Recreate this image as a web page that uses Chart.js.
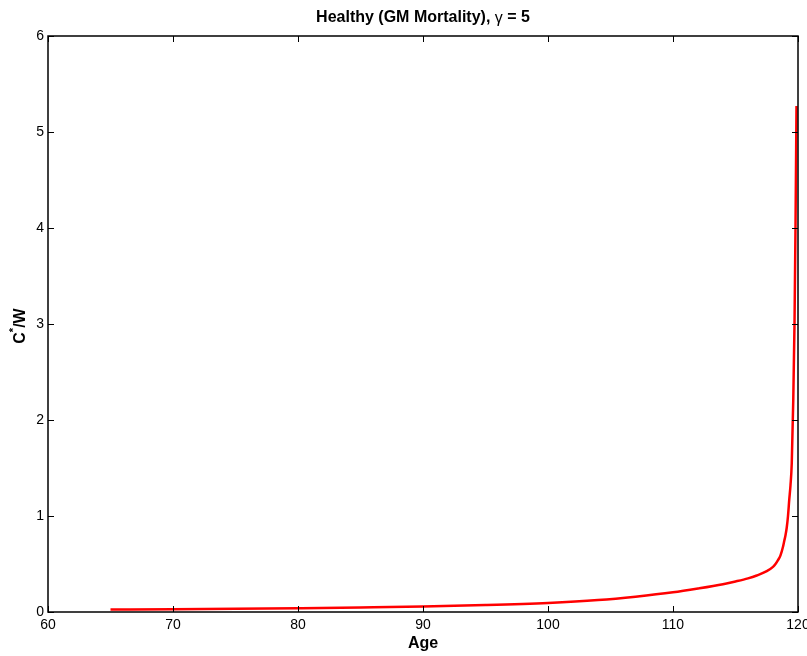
<!DOCTYPE html>
<html>
<head>
<meta charset="utf-8">
<script src="https://cdn.jsdelivr.net/npm/chart.js@4.4.0/dist/chart.umd.min.js"></script>
<style>
  html, body { margin: 0; padding: 0; background: #fff; }
  #wrap { width: 807px; height: 656px; }
</style>
</head>
<body>
<div id="wrap"><canvas id="grafico"></canvas></div>
<script>
// consumption / wealth ratio by age
var edades = [65, 70, 75, 80, 85, 90, 95, 100, 104, 107, 110, 112, 114, 115, 116, 116.7, 117.5, 118, 118.2, 118.4, 118.6, 118.8, 118.9, 119, 119.1, 119.2, 119.3, 119.4, 119.5, 119.62, 119.72, 119.8, 119.88];
var ratio  = [0.025, 0.029, 0.034, 0.04, 0.047, 0.056, 0.072, 0.095, 0.125, 0.16, 0.205, 0.245, 0.29, 0.318, 0.35, 0.38, 0.425, 0.47, 0.5, 0.54, 0.59, 0.68, 0.74, 0.8, 0.88, 1.0, 1.17, 1.32, 1.55, 2.2, 3.0, 4.0, 5.27];
var ticksX = [60, 70, 80, 90, 100, 110, 120];
var ticksY = [0, 1, 2, 3, 4, 5, 6];

var puntos = edades.map(function (e, i) { return { x: e, y: ratio[i] }; });

var fuente = '"Liberation Sans", Arial, sans-serif';

// marco, marcas hacia dentro, titulo y etiqueta del eje y
var marco = {
    id: 'marco',
    afterDraw: function (chart) {
        var ctx = chart.ctx, a = chart.chartArea;
        var sx = chart.scales.x, sy = chart.scales.y;
        ctx.save();
        ctx.strokeStyle = '#000';
        ctx.lineWidth = 1;
        ticksX.forEach(function (t) {
            var px = Math.round(sx.getPixelForValue(t)) + 0.5;
            ctx.beginPath();
            ctx.moveTo(px, a.bottom); ctx.lineTo(px, a.bottom - 6);
            ctx.moveTo(px, a.top); ctx.lineTo(px, a.top + 6);
            ctx.stroke();
        });
        ticksY.forEach(function (t) {
            var py = Math.round(sy.getPixelForValue(t)) + 0.5;
            ctx.beginPath();
            ctx.moveTo(a.left, py); ctx.lineTo(a.left + 6, py);
            ctx.moveTo(a.right, py); ctx.lineTo(a.right - 6, py);
            ctx.stroke();
        });
        ctx.lineWidth = 1.5;
        ctx.strokeRect(a.left, a.top, a.right - a.left, a.bottom - a.top);

        // titulo
        var parte1 = 'Healthy (GM Mortality), ';
        var parte2 = 'γ';
        var parte3 = ' = 5';
        ctx.fillStyle = '#000';
        ctx.textBaseline = 'middle';
        ctx.font = 'bold 16px ' + fuente;
        var w1 = ctx.measureText(parte1).width, w3 = ctx.measureText(parte3).width;
        ctx.font = '16px ' + fuente;
        var w2 = ctx.measureText(parte2).width;
        var x0 = (a.left + a.right) / 2 - (w1 + w2 + w3) / 2;
        ctx.textAlign = 'left';
        ctx.font = 'bold 16px ' + fuente;
        ctx.fillText(parte1, x0, 17.5);
        ctx.font = '16px ' + fuente;
        ctx.fillText(parte2, x0 + w1, 18.5);
        ctx.font = 'bold 16px ' + fuente;
        ctx.fillText(parte3, x0 + w1 + w2, 17.5);

        // C*/W girado
        ctx.translate(21, (a.top + a.bottom) / 2 + 2);
        ctx.rotate(-Math.PI / 2);
        ctx.font = 'bold 16px ' + fuente;
        var c = ctx.measureText('C').width, w = ctx.measureText('/W').width;
        ctx.font = 'bold 11px ' + fuente;
        var s = ctx.measureText('*').width;
        var xs = -(c + s + w) / 2;
        ctx.font = 'bold 16px ' + fuente;
        ctx.fillText('C', xs, 0);
        ctx.font = 'bold 11px ' + fuente;
        ctx.fillText('*', xs + c, -7);
        ctx.font = 'bold 16px ' + fuente;
        ctx.fillText('/W', xs + c + s, 0);
        ctx.restore();
    }
};

var contexto = document.getElementById('grafico').getContext('2d');
var myChart = new Chart(contexto, {
    type: 'line',
    data: {
        datasets: [{
            data: puntos,
            borderColor: '#ff0000',
            borderWidth: 2.5,
            pointRadius: 0,
            fill: false,
            cubicInterpolationMode: 'monotone'
        }]
    },
    options: {
        responsive: true,
        maintainAspectRatio: false,
        animation: false,
        layout: { padding: { top: 36, right: 9, left: 0, bottom: 0 } },
        plugins: { legend: { display: false }, tooltip: { enabled: false }, title: { display: false } },
        scales: {
            x: {
                type: 'linear',
                min: 60, max: 120,
                afterBuildTicks: function (s) { s.ticks = ticksX.map(function (v) { return { value: v }; }); },
                afterFit: function (s) { s.height = 44; s.paddingLeft = 0; s.paddingRight = 0; },
                grid: { display: false, drawTicks: false },
                border: { display: false },
                ticks: { color: '#000', padding: 5, maxRotation: 0, font: { family: fuente, size: 14 } },
                title: { display: true, text: 'Age', color: '#000', padding: { top: 0, bottom: 3 }, font: { family: fuente, size: 16, weight: 'bold' } }
            },
            y: {
                min: 0, max: 6,
                afterBuildTicks: function (s) { s.ticks = ticksY.map(function (v) { return { value: v }; }); },
                afterFit: function (s) { s.width = 48; s.paddingTop = 0; s.paddingBottom = 0; },
                grid: { display: false, drawTicks: false },
                border: { display: false },
                ticks: { color: '#000', padding: 4, font: { family: fuente, size: 14 } },
                title: { display: false }
            }
        }
    },
    plugins: [marco]
});
</script>
</body>
</html>
